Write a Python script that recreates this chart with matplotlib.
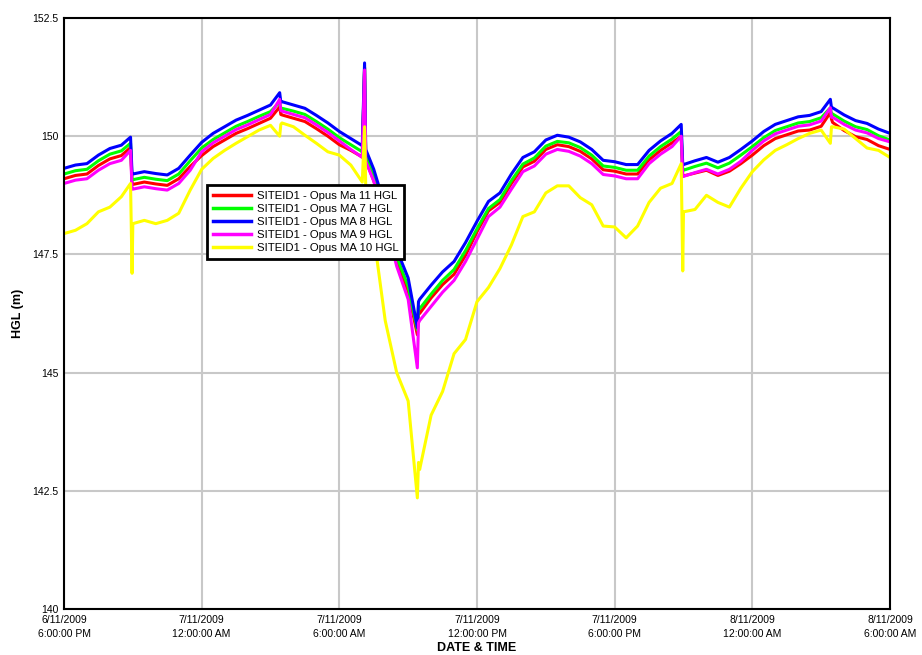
import matplotlib
matplotlib.use("Agg")
import matplotlib.pyplot as plt
import numpy as np
import pandas as pd

plt.rcParams.update({
    "font.family": ["Liberation Sans", "DejaVu Sans"],
    "font.size": 8,
})

# ── data: half-hourly readings, 6/11/2009 18:00 .. 8/11/2009 06:00 ──
t_start = "2009-11-06 18:00"
t_end = "2009-11-08 06:00"

hgl_ma11 = [149.10, 149.17, 149.20, 149.38, 149.52, 149.59, 148.98, 149.03, 148.99, 148.96,
            149.10, 149.36, 149.59, 149.78, 149.92, 150.06, 150.16, 150.27, 150.38, 150.45,
            150.38, 150.31, 150.16, 150.00, 149.82, 149.70, 149.56, 149.06, 148.24, 147.32,
            146.72, 146.25, 146.58, 146.86, 147.08, 147.48, 147.98, 148.42, 148.60, 149.00,
            149.35, 149.47, 149.72, 149.82, 149.78, 149.68, 149.52, 149.29, 149.26, 149.20,
            149.20, 149.50, 149.70, 149.86, 149.16, 149.22, 149.28, 149.17, 149.26, 149.42,
            149.60, 149.80, 149.95, 150.03, 150.11, 150.13, 150.21, 150.29, 150.12, 149.99,
            149.93, 149.80, 149.72]
hgl_ma7 = [149.20, 149.27, 149.30, 149.48, 149.62, 149.69, 149.08, 149.13, 149.09, 149.06,
           149.20, 149.48, 149.75, 149.93, 150.07, 150.21, 150.31, 150.42, 150.52, 150.59,
           150.53, 150.46, 150.31, 150.15, 149.97, 149.82, 149.67, 149.17, 148.35, 147.45,
           146.82, 146.35, 146.66, 146.95, 147.18, 147.58, 148.04, 148.47, 148.66, 149.06,
           149.41, 149.54, 149.79, 149.89, 149.86, 149.76, 149.60, 149.37, 149.34, 149.28,
           149.28, 149.58, 149.78, 149.94, 149.28, 149.36, 149.43, 149.33, 149.43, 149.60,
           149.78, 149.97, 150.12, 150.20, 150.28, 150.31, 150.39, 150.47, 150.32, 150.20,
           150.14, 150.01, 149.92]
hgl_ma8 = [149.32, 149.39, 149.42, 149.60, 149.74, 149.81, 149.20, 149.25, 149.21, 149.18,
           149.32, 149.60, 149.87, 150.06, 150.20, 150.34, 150.44, 150.55, 150.66, 150.73,
           150.66, 150.59, 150.44, 150.28, 150.10, 149.95, 149.80, 149.30, 148.50, 147.60,
           147.00, 146.55, 146.85, 147.13, 147.35, 147.75, 148.20, 148.62, 148.80, 149.20,
           149.55, 149.67, 149.92, 150.02, 149.98, 149.88, 149.72, 149.49, 149.46, 149.40,
           149.40, 149.70, 149.90, 150.06, 149.40, 149.48, 149.55, 149.45, 149.55, 149.72,
           149.90, 150.10, 150.25, 150.33, 150.41, 150.44, 150.52, 150.60, 150.45, 150.33,
           150.27, 150.15, 150.06]
hgl_ma9 = [149.00, 149.07, 149.10, 149.28, 149.42, 149.49, 148.88, 148.93, 148.89, 148.86,
           149.00, 149.28, 149.67, 149.86, 150.00, 150.14, 150.24, 150.35, 150.46, 150.53,
           150.46, 150.39, 150.24, 150.08, 149.90, 149.72, 149.55, 149.05, 148.20, 147.25,
           146.55, 146.10, 146.40, 146.70, 146.95, 147.35, 147.82, 148.30, 148.50, 148.88,
           149.25, 149.37, 149.62, 149.72, 149.68, 149.58, 149.42, 149.19, 149.16, 149.10,
           149.10, 149.42, 149.62, 149.78, 149.15, 149.23, 149.30, 149.20, 149.30, 149.47,
           149.70, 149.90, 150.05, 150.13, 150.21, 150.24, 150.32, 150.40, 150.25, 150.13,
           150.07, 149.95, 149.88]
hgl_ma10 = [147.94, 148.01, 148.15, 148.40, 148.50, 148.72, 148.15, 148.22, 148.15, 148.22,
            148.37, 148.86, 149.30, 149.53, 149.70, 149.85, 149.99, 150.13, 150.23, 150.28,
            150.20, 150.02, 149.85, 149.67, 149.60, 149.39, 149.03, 147.90, 146.10, 145.00,
            144.40, 142.95, 144.10, 144.60, 145.40, 145.70, 146.50, 146.80, 147.20, 147.70,
            148.30, 148.40, 148.80, 148.95, 148.95, 148.70, 148.55, 148.10, 148.08, 147.85,
            148.10, 148.60, 148.90, 149.00, 148.40, 148.45, 148.75, 148.60, 148.50, 148.90,
            149.25, 149.50, 149.70, 149.82, 149.95, 150.06, 150.13, 150.20, 150.15, 149.95,
            149.75, 149.70, 149.55]

# short events (pump steps and spikes)
event_times = ["2009-11-06 20:54", "2009-11-06 20:58", "2009-11-07 03:24", "2009-11-07 03:27",
               "2009-11-07 07:06", "2009-11-07 07:09", "2009-11-07 09:24", "2009-11-07 09:27",
               "2009-11-07 20:54", "2009-11-07 20:58", "2009-11-08 03:24", "2009-11-08 03:27"]
ev_ma11 = [149.76, 148.98, 150.62, 150.46, 151.45, 149.50, 145.80, 146.30, 150.00, 149.16, 150.50, 150.36]
ev_ma7 = [149.85, 149.08, 150.72, 150.58, 151.45, 149.60, 145.90, 146.40, 150.10, 149.28, 150.60, 150.47]
ev_ma8 = [149.98, 149.20, 150.92, 150.72, 151.55, 149.72, 145.95, 146.50, 150.25, 149.40, 150.78, 150.60]
ev_ma9 = [149.70, 148.88, 150.78, 150.54, 151.40, 149.47, 145.10, 146.05, 150.00, 149.15, 150.60, 150.40]
ev_ma10 = [149.00, 147.10, 150.00, 150.25, 150.20, 148.95, 142.35, 143.10, 149.42, 147.15, 149.85, 150.20]

labels = ["SITEID1 - Opus Ma 11 HGL", "SITEID1 - Opus MA 7 HGL", "SITEID1 - Opus MA 8 HGL",
          "SITEID1 - Opus MA 9 HGL", "SITEID1 - Opus MA 10 HGL"]
colors = ["#ff0000", "#00ff00", "#0000ff", "#ff00ff", "#ffff00"]

y_ticks = [140, 142.5, 145, 147.5, 150, 152.5]
x_tick_labels = ["6/11/2009\n6:00:00 PM", "7/11/2009\n12:00:00 AM", "7/11/2009\n6:00:00 AM",
                 "7/11/2009\n12:00:00 PM", "7/11/2009\n6:00:00 PM", "8/11/2009\n12:00:00 AM",
                 "8/11/2009\n6:00:00 AM"]


def build_series(grid_vals, ev_vals):
    grid_t = pd.date_range(t_start, t_end, freq="30min")
    s = pd.Series(list(grid_vals) + list(ev_vals),
                  index=list(grid_t) + list(pd.to_datetime(event_times)))
    return s.sort_index()


fig = plt.figure(figsize=(9.22, 6.55), dpi=100)
ax = fig.add_axes([64 / 922, 1 - 609 / 655, 826 / 922, 591 / 655])

series = [(hgl_ma11, ev_ma11), (hgl_ma7, ev_ma7), (hgl_ma8, ev_ma8),
          (hgl_ma9, ev_ma9), (hgl_ma10, ev_ma10)]
for (vals, ev), lab, col in zip(series, labels, colors):
    s = build_series(vals, ev)
    ax.plot(s.index, s.values, color=col, lw=2.2, label=lab)

ax.set_xlim(pd.Timestamp(t_start), pd.Timestamp(t_end))
ax.set_ylim(140, 152.5)
ax.set_yticks(y_ticks)
ax.set_yticklabels([f"{v:g}" for v in y_ticks], fontsize=7.5)
xt = pd.date_range(t_start, t_end, freq="6h")
ax.set_xticks(xt)
ax.set_xticklabels(x_tick_labels, fontsize=7.5, linespacing=1.6)
ax.tick_params(length=0, pad=4)

ax.grid(True, color="#c8c8c8", lw=1.5)
ax.set_axisbelow(True)
for sp in ax.spines.values():
    sp.set_linewidth(1.5)
    sp.set_color("black")

ax.set_ylabel("HGL (m)", fontsize=9, fontweight="bold", labelpad=6)
ax.set_xlabel("DATE & TIME", fontsize=9, fontweight="bold", labelpad=2)

leg = ax.legend(loc="upper left", bbox_to_anchor=(0.173, 0.7175), fontsize=8.2,
                frameon=True, fancybox=False, framealpha=1, edgecolor="black",
                handlelength=3.4, handletextpad=0.5, labelspacing=0.28,
                borderpad=0.5, borderaxespad=0)
leg.get_frame().set_linewidth(2)
for ln in leg.get_lines():
    ln.set_linewidth(2.5)

fig.savefig("out.png", dpi=100)
